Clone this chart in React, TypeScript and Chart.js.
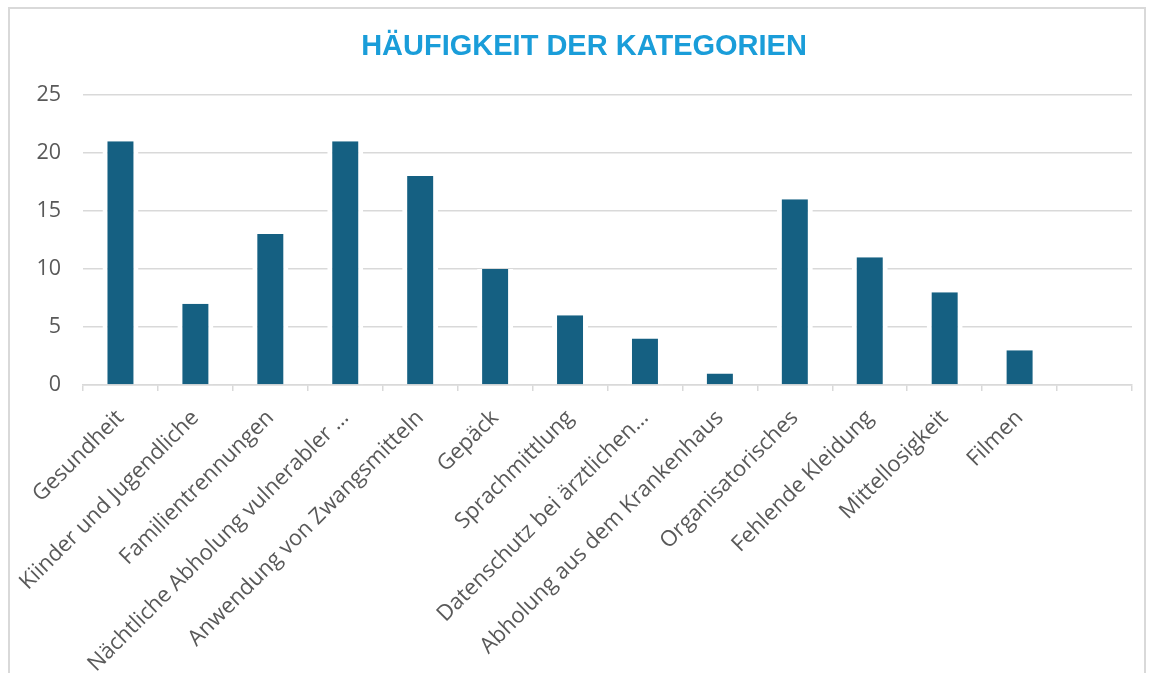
import React, { useEffect, useRef } from "react";
import { Chart, registerables } from "chart.js";

Chart.register(...registerables);

const categories: string[] = [
  "Gesundheit",
  "Kiinder und Jugendliche",
  "Familientrennungen",
  "Nächtliche Abholung vulnerabler …",
  "Anwendung von Zwangsmitteln",
  "Gepäck",
  "Sprachmittlung",
  "Datenschutz bei ärztlichen…",
  "Abholung aus dem Krankenhaus",
  "Organisatorisches",
  "Fehlende Kleidung",
  "Mittellosigkeit",
  "Filmen",
  "",
];

const counts: (number | null)[] = [21, 7, 13, 21, 18, 10, 6, 4, 1, 16, 11, 8, 3, null];

const yTicks = { min: 0, max: 25, step: 5 };

const chartTitle = "HÄUFIGKEIT DER KATEGORIEN";

const W = 1153;
const H = 673;

const shiftTitle = {
  id: "shiftTitle",
  afterLayout(chart: any) {
    const t = chart.titleBlock;
    if (t) {
      t.left += 18;
      t.right += 18;
    }
  },
};

export default function App() {
  const ref = useRef<HTMLCanvasElement | null>(null);

  useEffect(() => {
    if (!ref.current) return;
    const chart = new Chart(ref.current, {
      type: "bar",
      data: {
        labels: categories,
        datasets: [
          {
            data: counts,
            backgroundColor: "#156082",
            borderColor: "#ffffff",
            borderWidth: { left: 5, right: 5, top: 0, bottom: 0 },
            borderSkipped: "start",
            categoryPercentage: 1,
            barPercentage: 0.48,
          },
        ],
      },
      options: {
        animation: false,
        responsive: false,
        maintainAspectRatio: false,
        layout: { padding: { left: 0, right: 21, top: 0, bottom: 0 } },
        plugins: {
          legend: { display: false },
          tooltip: { enabled: false },
          title: {
            display: true,
            text: chartTitle,
            color: "#1A9DD9",
            font: { family: "'Liberation Sans', Arial, sans-serif", size: 29, weight: "bold", lineHeight: 1.2 },
            padding: { top: 30, bottom: 30 },
          },
        },
        scales: {
          x: {
            grid: {
              display: true,
              drawOnChartArea: false,
              drawTicks: true,
              tickLength: 6,
              color: "#d9d9d9",
              lineWidth: 1.5,
              offset: true,
            },
            border: { display: true, color: "#d9d9d9", width: 1.5 },
            ticks: {
              color: "#595959",
              font: { family: "'Open Sans', sans-serif", size: 22 },
              minRotation: 45,
              maxRotation: 45,
              autoSkip: false,
              padding: 14,
            },
            afterFit: (scale: any) => {
              scale.height = H - 385;
            },
          },
          y: {
            min: yTicks.min,
            max: yTicks.max,
            ticks: {
              stepSize: yTicks.step,
              color: "#595959",
              font: { family: "'Open Sans', sans-serif", size: 21.5 },
              padding: 22,
            },
            grid: {
              color: "#d9d9d9",
              lineWidth: 1.5,
              drawTicks: false,
            },
            border: { display: false },
            afterFit: (scale: any) => {
              scale.width = 83;
            },
          },
        },
      },
      plugins: [shiftTitle],
    } as any);
    return () => chart.destroy();
  }, []);

  return (
    <div
      style={{
        position: "fixed",
        left: 0,
        top: 0,
        width: W,
        height: H,
        background: "#ffffff",
        overflow: "hidden",
      }}
    >
      <div
        style={{
          position: "absolute",
          left: 8,
          top: 7,
          width: 1138,
          height: 700,
          border: "2px solid #d9d9d9",
          boxSizing: "border-box",
        }}
      />
      <canvas ref={ref} width={W} height={H} style={{ position: "absolute", left: 0, top: 0, width: W, height: H }} />
    </div>
  );
}
